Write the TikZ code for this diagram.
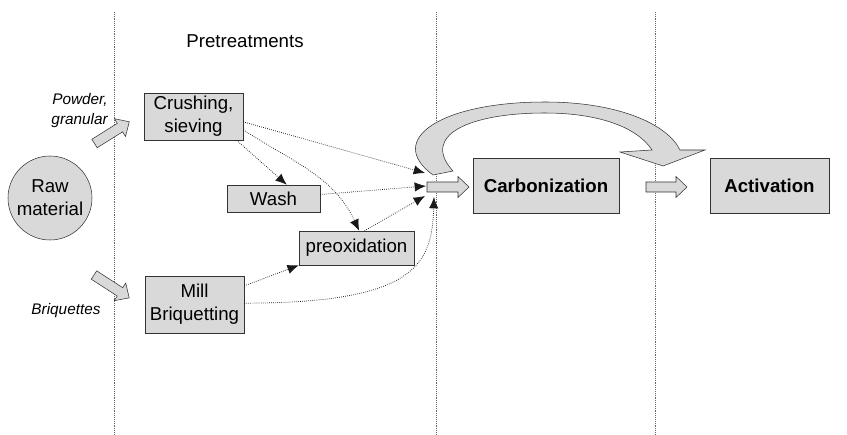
\documentclass[tikz,border=0pt]{standalone}
\usepackage{fontspec}
\setmainfont{Liberation Sans}
\usetikzlibrary{arrows.meta}
\tikzset{
  stepbox/.style={draw=black!80, fill=black!15, inner sep=0pt, align=center, font=\fontsize{14}{17}\selectfont},
  flow/.style={densely dotted, line width=0.55pt, draw=black!90, -{Latex[length=8.5pt,width=7pt]}},
  sep/.style={densely dotted, draw=black!60},
  blockarrow/.style={draw=black!80, fill=black!15, line join=miter},
  tag/.style={font=\fontsize{11.5}{15}\selectfont\itshape, align=right},
}
% block arrow: start point, angle, length
\newcommand{\blockarr}[3]{%
  \draw[blockarrow, shift={#1}, rotate=#2] (0,-5) -- ({#3-11},-5) -- ({#3-11},-10.5) -- (#3,0) -- ({#3-11},10.5) -- ({#3-11},5) -- (0,5) -- cycle;}
\begin{document}
\begin{tikzpicture}[x=0.75pt,y=-0.75pt]
\useasboundingbox (0,0) rectangle (847,435);
% stage separators
\draw[sep] (114,12) -- (114,435);
\draw[sep] (436,12) -- (436,435);
\draw[sep] (655,12) -- (655,435);

\node[stepbox, circle, minimum size=63pt] (raw) at (50,198) {Raw\\material};
\node[stepbox, minimum width=74.25pt, minimum height=35.25pt] (crush) at (193.5,116.5) {Crushing,\\sieving};
\node[stepbox, minimum width=74.25pt, minimum height=42.75pt] (mill) at (194.5,304.5) {Mill\\Briquetting};
\node[stepbox, minimum width=69.75pt, minimum height=20.25pt] (wash) at (273.5,198.5) {Wash};
\node[stepbox, minimum width=86.25pt, minimum height=25.5pt] (preox) at (356.5,248) {preoxidation};
\node[stepbox, minimum width=109.5pt, minimum height=41.25pt, font=\fontsize{14}{17}\selectfont\bfseries] (carb) at (546,185.5) {Carbonization};
\node[stepbox, minimum width=89.25pt, minimum height=41.25pt, font=\fontsize{14}{17}\selectfont\bfseries] (act) at (769.5,185.5) {Activation};

\node[font=\fontsize{14}{17}\selectfont] (pre) at (245,41) {Pretreatments};
\node[tag, anchor=east, inner sep=0pt] (powder) at (108,111) {Powder,\\granular};
\node[tag, inner sep=0pt] (briq) at (66,311) {Briquettes};

% feed points
\coordinate (pw) at (94.5,143.5);
\coordinate (bq) at (94,275);
\coordinate (feed) at (427,187);
\coordinate (out) at (646,187);
\coordinate (in1) at (425,173);
\coordinate (in2) at (426,186);
\coordinate (in3) at (425,196);
\coordinate (in4) at (434,197);

\blockarr{(pw)}{32}{41}
\blockarr{(bq)}{-33}{42}
\blockarr{(feed)}{0}{42}
\blockarr{(out)}{0}{41}

% recycle arrow
\draw[blockarrow] (433,175) .. controls (385,140) and (440,102) .. (545,102)
  .. controls (620,102) and (668,125) .. (680,150) -- (705,150) -- (663,166) -- (620,152) -- (652,150)
  .. controls (638,128) and (600,113) .. (545,113)
  .. controls (470,113) and (420,135) .. (453,171) -- cycle;

\draw[flow] ([yshift=-4pt]crush.east) -- (in1);
\draw[flow] ([yshift=-10pt]crush.east) to[out=-33,in=115] ([xshift=2pt]preox.north);
\draw[flow] ([xshift=-5pt]crush.south east) -- ([xshift=10pt]wash.north);
\draw[flow] ([yshift=3pt]wash.east) -- (in2);
\draw[flow] ([xshift=6pt]preox.north) -- (in3);
\draw[flow] ([yshift=14pt]mill.east) -- (preox.south west);
\draw[flow] ([yshift=1pt]mill.east) .. controls (415,303) and (432,265) .. (in4);
\end{tikzpicture}
\end{document}
